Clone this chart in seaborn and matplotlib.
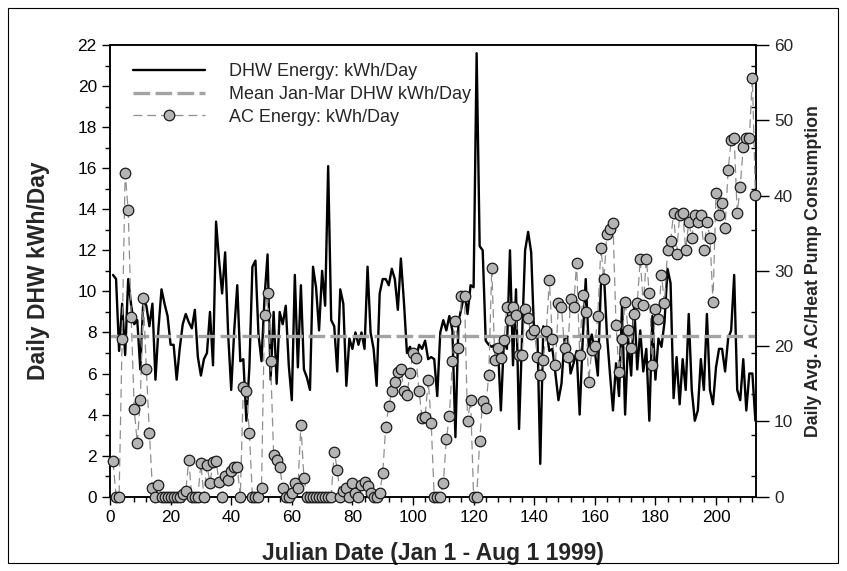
import numpy as np
import pandas as pd
import matplotlib
matplotlib.use("Agg")
import matplotlib.pyplot as plt
from matplotlib.lines import Line2D
from matplotlib.patches import Rectangle
from matplotlib.ticker import MultipleLocator, FixedLocator
import seaborn as sns

# Julian day of 1999 (Jan 1 .. Aug 1)
days = list(range(1, 214))

# Daily domestic hot water energy, kWh/day
dhw = [
    10.8, 10.6, 7.1, 9.4, 6.9, 10.6, 9.3, 8.4, 8.6, 6.2,
    9.6, 9.3, 8.3, 9.4, 5.7, 8.2, 10.1, 9.4, 8.8, 7.4,
    7.4, 5.7, 7.2, 8.4, 8.9, 8.5, 8.2, 9.1, 6.8, 5.9,
    6.7, 7.0, 9.0, 6.4, 13.4, 11.5, 9.9, 11.9, 7.9, 5.2,
    8.1, 10.3, 6.6, 6.7, 3.7, 6.3, 11.2, 11.5, 7.9, 6.6,
    9.7, 11.8, 5.7, 9.0, 5.5, 9.0, 8.4, 9.3, 6.4, 4.7,
    10.8, 6.3, 10.3, 6.2, 5.8, 5.2, 11.2, 10.2, 8.1, 11.0,
    9.3, 16.1, 8.6, 8.3, 6.1, 10.1, 9.4, 5.4, 7.7, 7.2,
    8.0, 7.4, 8.0, 7.2, 11.2, 8.0, 7.2, 5.4, 9.9, 10.6,
    10.6, 10.3, 11.1, 10.6, 9.1, 11.6, 9.5, 7.0, 7.3, 6.9,
    6.7, 7.4, 7.2, 7.6, 6.7, 6.8, 6.7, 4.9, 8.0, 8.6,
    8.1, 8.8, 8.1, 2.9, 8.5, 9.2, 9.9, 8.9, 10.3, 10.2,
    21.6, 12.2, 12.0, 7.6, 7.4, 7.3, 7.4, 7.4, 4.2, 7.6,
    7.2, 12.0, 6.4, 10.1, 3.3, 7.8, 12.0, 12.9, 11.9, 7.8,
    8.3, 1.6, 8.3, 8.1, 7.1, 7.2, 6.0, 4.7, 5.5, 7.7,
    7.8, 6.0, 6.5, 7.1, 4.0, 7.6, 10.6, 7.3, 7.9, 7.1,
    5.9, 10.3, 10.9, 7.9, 6.0, 4.2, 6.5, 4.9, 9.4, 4.0,
    7.7, 5.9, 9.4, 6.2, 8.1, 6.1, 7.2, 3.7, 8.8, 5.7,
    7.7, 7.3, 8.5, 11.1, 10.4, 4.8, 6.8, 4.5, 6.7, 5.2,
    8.9, 5.2, 3.7, 4.2, 6.7, 5.2, 8.9, 5.2, 4.5, 6.3,
    7.2, 7.2, 6.1, 7.7, 8.1, 10.8, 5.2, 4.7, 6.7, 4.2,
    6.0, 6.0, 3.7,
]

# Daily AC / heat pump energy, kWh/day
ac = [
    4.7, 0, 0, 21.0, 43.0, 38.1, 23.9, 11.6, 7.1, 12.9,
    26.4, 16.9, 8.5, 1.2, 0, 1.6, 0, 0, 0, 0,
    0, 0, 0, 0.3, 0.7, 4.9, 0, 0, 0, 4.5,
    0, 4.2, 1.8, 4.6, 4.7, 2.0, 0, 2.7, 2.2, 3.4,
    4.0, 4.0, 0, 14.6, 14.0, 8.5, 0, 0, 0, 1.2,
    24.2, 27.0, 18.0, 5.6, 4.9, 4.0, 1.2, 0, 0, 0.5,
    1.8, 1.2, 9.5, 2.5, 0, 0, 0, 0, 0, 0,
    0, 0, 0, 6.0, 3.6, 0, 0.7, 1.2, 0, 1.8,
    0.5, 0, 1.6, 2.0, 1.4, 0.5, 0, 0, 0.5, 3.1,
    9.3, 12.0, 14.0, 15.3, 16.6, 17.0, 14.0, 13.5, 16.4, 19.1,
    18.4, 14.0, 10.4, 10.6, 15.5, 9.8, 0, 0, 0, 1.8,
    7.6, 10.7, 18.0, 23.3, 19.7, 26.6, 26.6, 10.0, 12.9, 0,
    0, 7.4, 12.7, 11.8, 16.2, 30.4, 18.2, 19.7, 18.4, 20.8,
    25.2, 23.5, 25.2, 24.1, 18.8, 18.8, 24.9, 23.8, 21.6, 22.1,
    18.6, 16.2, 18.2, 22.0, 28.8, 20.9, 17.5, 25.7, 25.2, 19.7,
    18.6, 26.3, 25.2, 31.1, 18.8, 26.8, 24.6, 15.3, 19.5, 20.0,
    24.0, 33.1, 28.9, 34.9, 35.6, 36.3, 22.8, 16.6, 21.0, 25.9,
    22.1, 19.7, 24.3, 25.7, 31.6, 25.5, 31.6, 27.0, 17.5, 24.9,
    23.6, 29.5, 25.7, 32.8, 33.9, 37.7, 32.3, 37.4, 37.7, 32.8,
    36.5, 34.4, 37.4, 36.5, 37.4, 32.8, 36.5, 34.4, 25.9, 40.3,
    37.4, 39.0, 35.7, 43.4, 47.4, 47.6, 37.7, 41.2, 46.5, 47.6,
    47.6, 55.6, 40.1,
]

# Mean Jan-Mar DHW level, kWh/day
mean_jan_mar = 7.85

labels = ["DHW Energy: kWh/Day", "Mean Jan-Mar DHW kWh/Day", "AC Energy: kWh/Day"]

df = pd.DataFrame({"day": days, "dhw": dhw, "ac": ac})

sns.set_style("ticks")
plt.rcParams["font.family"] = ["Liberation Sans", "DejaVu Sans"]

fig = plt.figure(figsize=(8.47, 5.71), dpi=100)
W, H = 847, 571
ax = fig.add_axes([110 / W, 1 - 496.7 / H, (756 - 110) / W, (496.7 - 45) / H])

# DHW line
sns.lineplot(data=df, x="day", y="dhw", ax=ax, color="black", lw=1.7,
             legend=False, zorder=3)
# Mean Jan-Mar line
mean_line = ax.axhline(mean_jan_mar, color="#a3a3a3", lw=2.4, zorder=4)
mean_line.set_dashes([5.0, 1.6])

ax.set_xlim(0, 213.2)
ax.set_ylim(0, 22)
ax.xaxis.set_major_locator(MultipleLocator(20))
ax.xaxis.set_minor_locator(MultipleLocator(4))
ax.yaxis.set_major_locator(MultipleLocator(2))
ax.yaxis.set_minor_locator(MultipleLocator(1))
ax.tick_params(axis="both", which="major", direction="out", length=6,
               width=1, labelsize=12.4, color="black", labelcolor="black")
ax.tick_params(axis="both", which="minor", direction="out", length=3.5,
               width=1, color="black")
ax.tick_params(axis="y", which="both", right=False)
ax.tick_params(axis="x", which="both", top=False)
for s in ax.spines.values():
    s.set_linewidth(1.1)
    s.set_color("black")

ax.set_xlabel("Julian Date (Jan 1 - Aug 1 1999)", fontsize=16.5,
              fontweight="bold")
ax.set_ylabel("Daily DHW kWh/Day", fontsize=16.5, fontweight="bold")
ax.xaxis.set_label_coords(0.5, -0.1)
ax.yaxis.set_label_coords(-0.093, 0.5)

# AC energy on the secondary axis
ax2 = ax.twinx()
sns.lineplot(data=df, x="day", y="ac", ax=ax2, color="#8f8f8f", lw=0.9,
             marker="o", markersize=7.6, markerfacecolor="#b4b4b4",
             markeredgecolor="#1a1a1a", markeredgewidth=0.9,
             legend=False, zorder=5)
ac_line = ax2.lines[0]
ac_line.set_dashes([7, 4])
ac_line.set_clip_on(False)

ax2.set_ylim(0, 60)
ax2.set_xlim(0, 213.2)
ax2.yaxis.set_major_locator(MultipleLocator(10))
# inward marks on the right spine at the odd DHW values
ax2.yaxis.set_minor_locator(FixedLocator([v * 60 / 22 for v in range(1, 22, 2)]))
ax2.tick_params(axis="y", which="major", direction="out", length=9.5,
                width=1, labelsize=12.4, color="black")
ax2.tick_params(axis="y", which="minor", direction="in", length=3.5,
                width=1, color="black")
ax2.set_ylabel("Daily Avg. AC/Heat Pump Consumption", fontsize=12.8,
               fontweight="bold")
ax2.yaxis.set_label_coords(1.076, 0.5)
for s in ax2.spines.values():
    s.set_linewidth(1.1)
    s.set_color("black")

# legend
h_dhw = Line2D([], [], color="black", lw=1.7)
h_mean = Line2D([], [], color="#a3a3a3", lw=2.4, dashes=[5.0, 1.6])
h_ac = Line2D([], [], color="#8f8f8f", lw=0.9, dashes=[7, 4], marker="o",
              markersize=7.6, markerfacecolor="#b4b4b4",
              markeredgecolor="#1a1a1a", markeredgewidth=0.9)
ax2.legend([h_dhw, h_mean, h_ac], labels, loc="upper left",
           bbox_to_anchor=(0.036, 0.96), frameon=False, fontsize=13,
           handlelength=4.0, handletextpad=1.3, labelspacing=0.32,
           borderpad=0, borderaxespad=0)

# outer frame
fig.patches.append(Rectangle((8 / W, 8 / H), (838 - 8) / W, (563 - 8) / H,
                             transform=fig.transFigure, fill=False,
                             edgecolor="black", lw=0.8))

fig.savefig("out.png", dpi=100)
